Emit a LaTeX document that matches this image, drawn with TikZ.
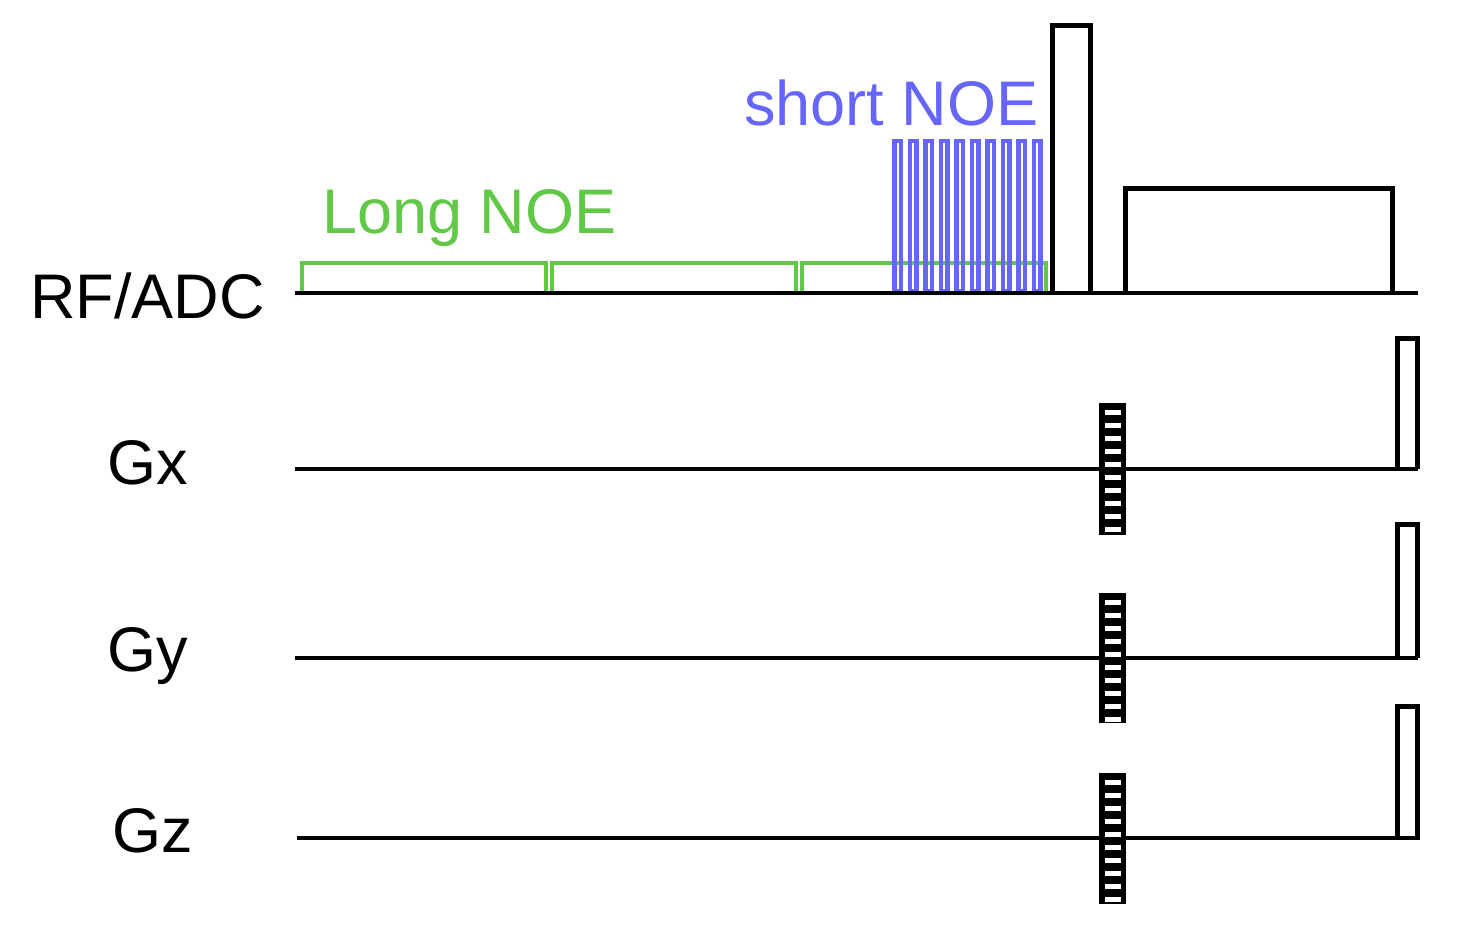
\documentclass[tikz,border=0pt]{standalone}
\usepackage{fontspec}
\setmainfont{Liberation Sans}
\definecolor{noegreen}{RGB}{98,200,72}
\definecolor{noeblue}{RGB}{102,102,255}
\begin{document}
\begin{tikzpicture}[x=1pt,y=-1pt,
  lbl/.style={anchor=base west,inner sep=0pt,font=\fontsize{63}{70}\selectfont},
  base/.style={line width=4.5pt,black},
  pulse/.style={line width=5pt,black},
  longp/.style={line width=4.5pt,noegreen},
  shortp/.style={line width=4.5pt,noeblue}]
\useasboundingbox (0,0) rectangle (1468,934);
% labels
\node[lbl] (rf) at (30,318) {RF/ADC};
\node[lbl] (gx) at (107,484) {Gx};
\node[lbl] (gy) at (107,671) {Gy};
\node[lbl] (gz) at (112,852) {Gz};
\node[lbl,text=noegreen] (long) at (322,233) {Long NOE};
\node[lbl,text=noeblue] (short) at (744,125) {short NOE};
% long NOE pulses
\foreach \a in {302,552,802}{
  \draw[longp] (\a,293) -- (\a,263) -- (\a+244,263) -- (\a+244,293);
}
% short NOE pulses
\foreach \i in {0,...,9}{
  \draw[shortp] (894.5+15.5*\i,291) rectangle (901+15.5*\i,141);
}
% baselines
\draw[base] (295,293) -- (1418,293);
\draw[base] (295,469) -- (1418,469);
\draw[base] (295,658) -- (1418,658);
\draw[base] (297,838) -- (1420,838);
% excitation pulse and ADC
\draw[pulse] (1052,293) -- (1052,26) -- (1090,26) -- (1090,293);
\draw[pulse] (1125,293) -- (1125,188) -- (1392,188) -- (1392,293);
% phase encoding gradients
\foreach \t/\b in {403/535, 593/723, 773/904}{
  \fill[black] (1099,\t) rectangle (1126,\b);
  \foreach \k in {0,...,9}{
    \fill[white] (1104.5,\t+7+13.05*\k) rectangle (1120.5,\t+12+13.05*\k);
  }
}
% readout gradients
\foreach \t/\b in {338/469, 524/658, 706/838}{
  \draw[pulse] (1397,\b) -- (1397,\t) -- (1417,\t) -- (1417,\b);
}
\end{tikzpicture}
\end{document}
